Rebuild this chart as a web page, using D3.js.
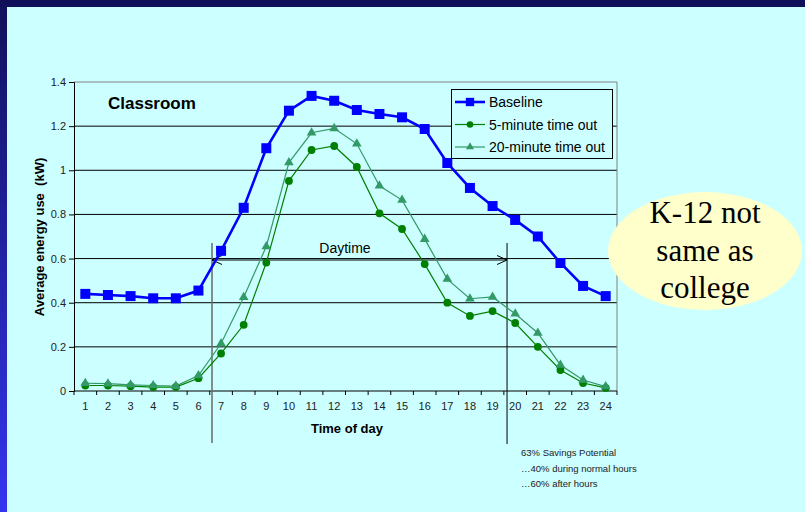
<!DOCTYPE html>
<html>
<head>
<meta charset="utf-8">
<script src="https://cdn.jsdelivr.net/npm/d3@7"></script>
<style>
  html, body { margin: 0; padding: 0; background: #ccffff; }
  svg { display: block; }
  text { font-family: "Liberation Sans", Arial, sans-serif; fill: #000; }
</style>
</head>
<body>
<script>
// Chart data.
const hours = ['1', '2', '3', '4', '5', '6', '7', '8', '9', '10', '11', '12',
               '13', '14', '15', '16', '17', '18', '19', '20', '21', '22', '23', '24'];
const baseline = [0.44, 0.435, 0.43, 0.42, 0.42, 0.455, 0.635, 0.83, 1.10, 1.27, 1.337, 1.315,
                  1.273, 1.255, 1.24, 1.187, 1.033, 0.92, 0.838, 0.775, 0.70, 0.58, 0.476, 0.43];
const fiveMinute = [0.025, 0.025, 0.022, 0.018, 0.018, 0.058, 0.17, 0.30, 0.582, 0.952, 1.092, 1.11,
                    1.015, 0.805, 0.734, 0.575, 0.40, 0.34, 0.362, 0.308, 0.20, 0.095, 0.036, 0.014];
const twentyMinute = [0.035, 0.033, 0.028, 0.025, 0.022, 0.07, 0.215, 0.425, 0.655, 1.035, 1.17, 1.19,
                      1.12, 0.93, 0.865, 0.688, 0.507, 0.418, 0.426, 0.35, 0.263, 0.118, 0.05, 0.02];
const seriesNames = ['Baseline', '5-minute time out', '20-minute time out'];
const yTicks = [0, 0.2, 0.4, 0.6, 0.8, 1, 1.2, 1.4];
const daytime = [6.6, 19.64];
const notes = ['63% Savings Potential', '\u202640% during normal hours', '\u202660% after hours'];
const bubbleLines = ['K-12 not', 'same as', 'college'];

// Page and plot geometry.
const pageSize = {width: 805, height: 512};
const plot = {left: 74, right: 617, top: 82, bottom: 391};

const svg = d3.select('body')
  .append('svg')
  .attr('width', pageSize.width)
  .attr('height', pageSize.height);

// Slide frame: dark bar on top, blue gradient down the left.
const defs = svg.append('defs');
const grad = defs.append('linearGradient')
  .attr('id', 'side')
  .attr('x1', 0).attr('y1', 0).attr('x2', 0).attr('y2', 1);
grad.append('stop').attr('offset', '0%').attr('stop-color', '#10105a');
grad.append('stop').attr('offset', '100%').attr('stop-color', '#3535f0');

svg.append('rect')
  .attr('width', pageSize.width).attr('height', pageSize.height)
  .style('fill', '#ccffff');
svg.append('rect')
  .attr('x', 0).attr('y', 0).attr('width', 7).attr('height', pageSize.height)
  .style('fill', 'url(#side)');
svg.append('rect')
  .attr('x', 0).attr('y', 0).attr('width', pageSize.width).attr('height', 7)
  .style('fill', '#10105a');

// Scales.
const x = d3.scaleBand()
  .domain(hours)
  .range([plot.left, plot.right]);
const y = d3.scaleLinear()
  .domain([0, 1.4])
  .range([plot.bottom, plot.top]);
// Continuous hour position, for the daytime marker.
const hourX = d3.scaleLinear()
  .domain([1, 24])
  .range([x('1') + x.bandwidth() / 2, x('24') + x.bandwidth() / 2]);

// Gridlines.
svg.append('g')
  .selectAll('line')
  .data(yTicks.filter((t) => t > 0 && t < 1.4))
  .enter()
  .append('line')
  .attr('x1', plot.left).attr('x2', plot.right)
  .attr('y1', (d) => y(d)).attr('y2', (d) => y(d))
  .style('stroke', '#000')
  .style('stroke-width', 1);

// Plot border (top and right in gray).
svg.append('path')
  .attr('d', `M${plot.left},${y(1.4)}H${plot.right}V${plot.bottom}`)
  .style('fill', 'none')
  .style('stroke', '#808080')
  .style('stroke-width', 1);

// Y axis.
const yAxis = d3.axisLeft(y)
  .tickValues(yTicks)
  .tickSize(5)
  .tickPadding(3)
  .tickFormat((d) => d3.format('')(+d.toFixed(1)));
const yG = svg.append('g')
  .attr('transform', `translate(${plot.left},0)`)
  .call(yAxis);
yG.select('.domain').style('stroke', '#000');
yG.selectAll('text')
  .style('font-size', '11px')
  .style('font-family', '"Liberation Sans", Arial, sans-serif')
  .style('fill', '#222');

// X axis: ticks on band boundaries, labels at band centres.
const xG = svg.append('g')
  .attr('transform', `translate(0,${plot.bottom})`);
xG.append('line')
  .attr('x1', plot.left).attr('x2', plot.right)
  .style('stroke', '#000');
xG.selectAll('line.tick')
  .data(hours.concat(['end']))
  .enter()
  .append('line')
  .attr('class', 'tick')
  .attr('x1', (d) => d === 'end' ? plot.right : x(d))
  .attr('x2', (d) => d === 'end' ? plot.right : x(d))
  .attr('y1', 0).attr('y2', 4)
  .style('stroke', '#000');
xG.selectAll('text')
  .data(hours)
  .enter()
  .append('text')
  .attr('x', (d) => x(d) + x.bandwidth() / 2)
  .attr('y', 19)
  .attr('text-anchor', 'middle')
  .style('font-size', '11px')
  .style('fill', '#222')
  .text((d) => d);

// Axis titles.
svg.append('text')
  .attr('x', 347).attr('y', 433)
  .attr('text-anchor', 'middle')
  .style('font-size', '13px')
  .style('font-weight', 'bold')
  .text('Time of day');
svg.append('text')
  .attr('transform', 'translate(44,237) rotate(-90)')
  .attr('text-anchor', 'middle')
  .style('font-size', '13px')
  .style('font-weight', 'bold')
  .text('Average energy use  (kW)')
  .attr('xml:space', 'preserve');

svg.append('text')
  .attr('x', 108).attr('y', 109)
  .style('font-size', '17px')
  .style('font-weight', 'bold')
  .text('Classroom');

// Daytime marker.
const dayG = svg.append('g');
const dx0 = hourX(daytime[0]);
const dx1 = hourX(daytime[1]);
const dayY = 260;
dayG.append('line')
  .attr('x1', dx0).attr('x2', dx0).attr('y1', 243).attr('y2', 443)
  .style('stroke', '#6a6a6a').style('stroke-width', 1.5);
dayG.append('line')
  .attr('x1', dx1).attr('x2', dx1).attr('y1', 243).attr('y2', 444)
  .style('stroke', '#000').style('stroke-width', 1);
dayG.append('line')
  .attr('x1', dx0).attr('x2', dx1).attr('y1', dayY).attr('y2', dayY)
  .style('stroke', '#000');
dayG.append('path')
  .attr('d', `M${dx0 + 10},${dayY - 4.5}L${dx0},${dayY}L${dx0 + 10},${dayY + 4.5}`)
  .style('fill', 'none').style('stroke', '#000');
dayG.append('path')
  .attr('d', `M${dx1 - 10},${dayY - 4.5}L${dx1},${dayY}L${dx1 - 10},${dayY + 4.5}`)
  .style('fill', 'none').style('stroke', '#000');
dayG.append('text')
  .attr('x', 345).attr('y', 253)
  .attr('text-anchor', 'middle')
  .style('font-size', '14px')
  .text('Daytime');

// Series.
const series = [
  {name: seriesNames[0], values: baseline, color: '#0000ff', width: 2.6, marker: 'square', size: 100},
  {name: seriesNames[1], values: fiveMinute, color: '#008000', width: 1.2, marker: 'circle', size: 48},
  {name: seriesNames[2], values: twentyMinute, color: '#339966', width: 1.2, marker: 'triangle', size: 40}
];
const symbolType = {square: d3.symbolSquare, circle: d3.symbolCircle, triangle: d3.symbolTriangle};

const line = d3.line()
  .x((d, i) => x(hours[i]) + x.bandwidth() / 2)
  .y((d) => y(d));

series.forEach((s) => {
  const g = svg.append('g');
  g.append('path')
    .datum(s.values)
    .attr('d', line)
    .style('fill', 'none')
    .style('stroke', s.color)
    .style('stroke-width', s.width);
  g.selectAll('path.pt')
    .data(s.values)
    .enter()
    .append('path')
    .attr('class', 'pt')
    .attr('transform', (d, i) => `translate(${x(hours[i]) + x.bandwidth() / 2},${y(d)})`)
    .attr('d', d3.symbol().type(symbolType[s.marker]).size(s.size))
    .style('fill', s.color);
});

// Legend.
const legend = svg.append('g');
legend.append('rect')
  .attr('x', 451.5).attr('y', 89.5).attr('width', 161).attr('height', 69)
  .style('fill', '#ccffff')
  .style('stroke', '#000');
const legendRows = [102, 124.5, 147];
series.forEach((s, i) => {
  const ly = legendRows[i];
  legend.append('line')
    .attr('x1', 455).attr('x2', 485).attr('y1', ly).attr('y2', ly)
    .style('stroke', s.color)
    .style('stroke-width', s.width);
  legend.append('path')
    .attr('transform', `translate(470,${ly})`)
    .attr('d', d3.symbol().type(symbolType[s.marker]).size(s.size * 0.7))
    .style('fill', s.color);
  legend.append('text')
    .attr('x', 489).attr('y', ly + 5)
    .style('font-size', '14px')
    .text(s.name);
});

// Savings notes.
svg.append('g')
  .selectAll('text')
  .data(notes)
  .enter()
  .append('text')
  .attr('x', 521)
  .attr('y', (d, i) => 456 + i * 15.5)
  .style('font-size', '9.5px')
  .style('fill', '#222')
  .text((d) => d);

// Callout bubble.
svg.append('ellipse')
  .attr('cx', 705).attr('cy', 251).attr('rx', 97).attr('ry', 59)
  .style('fill', '#ffffcc');
svg.append('g')
  .selectAll('text')
  .data(bubbleLines)
  .enter()
  .append('text')
  .attr('x', 705)
  .attr('y', (d, i) => 223 + i * 37.5)
  .attr('text-anchor', 'middle')
  .style('font-family', '"Liberation Serif", "Times New Roman", serif')
  .style('font-size', '31px')
  .text((d) => d);
</script>
</body>
</html>
